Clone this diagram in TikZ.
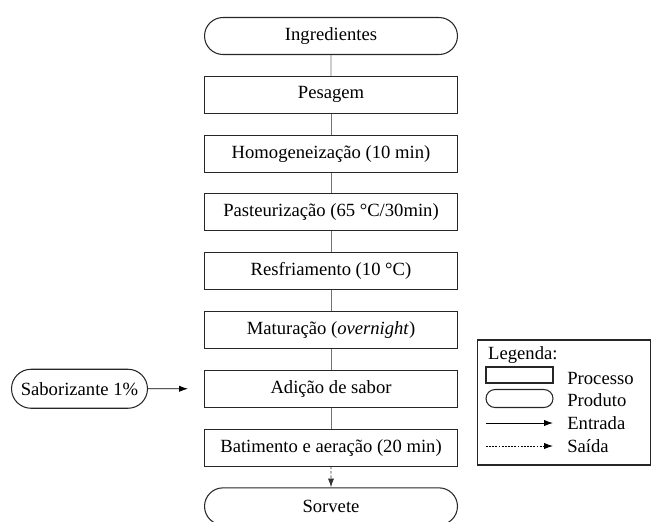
\documentclass[tikz,border=0pt]{standalone}
\usepackage{fontspec}
\setmainfont{Liberation Serif}
\usepackage{tikz}
\usetikzlibrary{arrows.meta,calc}
\usetikzlibrary{positioning,shapes.misc}
\tikzset{proc/.style={draw=black!85,line width=0.6pt,minimum width=5.06cm,minimum height=0.74cm,inner sep=0pt},
  prod/.style={proc,rounded rectangle},
  liga/.style={draw=black!55,line width=0.5pt}}
\begin{document}
\begin{tikzpicture}[x=0.02cm,y=-0.02cm,>={Latex[length=5pt,width=3.5pt]},node distance=0.415cm,font=\fontsize{10.6}{12}\selectfont]
\useasboundingbox (0,0) rectangle (651,521);
% --- fluxograma principal
\node[prod] (ingr) at (331,36) {Ingredientes};
\node[proc,below=of ingr] (pesa) {Pesagem};
\node[proc,below=of pesa] (homo) {Homogeneização (10 min)};
\node[proc,below=of homo] (past) {Pasteurização (65 °C/30min)};
\node[proc,below=of past] (resf) {Resfriamento (10 °C)};
\node[proc,below=of resf] (matu) {Maturação (\textit{overnight})};
\node[proc,below=of matu] (adic) {Adição de sabor};
\node[proc,below=of adic] (bati) {Batimento e aeração (20 min)};
\node[prod,below=of bati] (sorv) {Sorvete};
\foreach \a/\b in {ingr/pesa,pesa/homo,homo/past,past/resf,resf/matu,matu/adic,adic/bati}
  \draw[liga] (\a) -- (\b);
\draw[liga,draw=black!80,dashed,dash pattern=on 1.5pt off 1pt,->] (bati) -- (sorv);
% --- entrada
\node[prod,minimum width=2.72cm,minimum height=0.78cm,left=1.12cm of adic] (sabo) {Saborizante 1\%};
\draw[->,line width=0.5pt,shorten >=0.32cm] (sabo) -- (adic);
% --- legenda
\node[draw=black!85,line width=0.6pt,minimum width=3.48cm,minimum height=2.5cm] (leg) at (564,402.5) {};
\node[anchor=west] (ltit) at (482,355) {Legenda:};
\node[proc,minimum width=1.34cm,minimum height=0.32cm] (lproc) at (519.5,375) {};
\node[prod,minimum width=1.34cm,minimum height=0.36cm] (lprod) at (519.5,398.5) {};
\coordinate (le1) at (486,423); \coordinate (le2) at (553,423);
\coordinate (ls1) at (486,446); \coordinate (ls2) at (553,446);
\draw[->,line width=0.5pt] (le1) -- (le2);
\draw[->,line width=0.5pt,dashed,dash pattern=on 1pt off 0.8pt] (ls1) -- (ls2);
\node[anchor=west,inner sep=0pt] at (567,378) {Processo};
\node[anchor=west,inner sep=0pt] at (567,400) {Produto};
\node[anchor=west,inner sep=0pt] at (567,423) {Entrada};
\node[anchor=west,inner sep=0pt] at (567,446) {Saída};
\end{tikzpicture}
\end{document}
